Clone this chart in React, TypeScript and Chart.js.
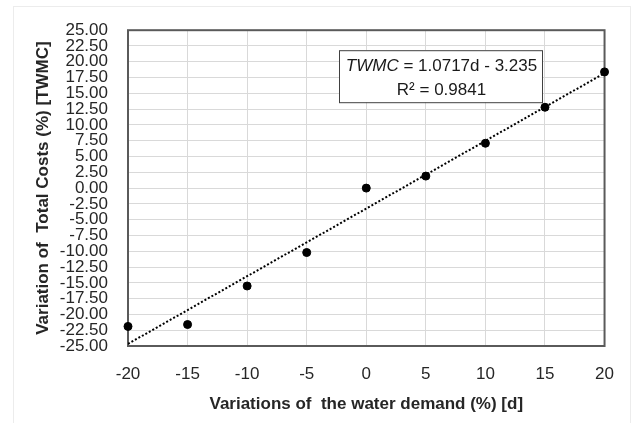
import React, { useEffect, useRef } from "react";
import { Chart, registerables } from "chart.js";

Chart.register(...registerables);

const demandChanges = [-20, -15, -10, -5, 0, 5, 10, 15, 20];
const costChanges = [-21.9, -21.6, -15.5, -10.2, 0.0, 1.9, 7.1, 12.8, 18.4];
const trendSlope = 1.0717;
const trendIntercept = -3.235;
const rSquared = 0.9841;
const xRange = [-20, 20];
const yRange = [-25, 25];
const xStep = 5;
const yStep = 2.5;

const FONT = "'Liberation Sans', Arial, sans-serif";

const boxPlugin = {
  id: "eqBox",
  afterDraw(chart: any) {
    const { ctx, chartArea } = chart;
    const left = chartArea.left + 211;
    const top = chartArea.top + 20;
    const w = 203;
    const h = 52;
    ctx.save();
    ctx.fillStyle = "#ffffff";
    ctx.fillRect(left, top, w, h);
    ctx.strokeStyle = "#404040";
    ctx.lineWidth = 1;
    ctx.strokeRect(left + 0.5, top + 0.5, w, h);
    ctx.fillStyle = "#1a1a1a";
    ctx.textBaseline = "middle";
    const italicPart = "TWMC";
    const rest = ` = ${trendSlope}d - ${Math.abs(trendIntercept)}`;
    ctx.font = `italic 17px ${FONT}`;
    const w1 = ctx.measureText(italicPart).width;
    ctx.font = `17px ${FONT}`;
    const w2 = ctx.measureText(rest).width;
    const cx = left + w / 2 + 1;
    let x = cx - (w1 + w2) / 2;
    ctx.textAlign = "left";
    ctx.font = `italic 17px ${FONT}`;
    ctx.fillText(italicPart, x, top + 16);
    ctx.font = `17px ${FONT}`;
    ctx.fillText(rest, x + w1, top + 16);
    ctx.textAlign = "center";
    ctx.fillText(`R\u00B2 = ${rSquared}`, cx, top + 40);
    ctx.restore();
  },
};

const framePlugin = {
  id: "frame",
  beforeDraw(chart: any) {
    const { ctx, width, height } = chart;
    ctx.save();
    ctx.fillStyle = "#ffffff";
    ctx.fillRect(0, 0, width, height);
    ctx.strokeStyle = "#ececec";
    ctx.lineWidth = 1;
    ctx.strokeRect(13.5, 6.5, width - 15, height + 10);
    ctx.restore();
  },
  beforeDatasetsDraw(chart: any) {
    const { ctx, chartArea } = chart;
    ctx.save();
    ctx.strokeStyle = "#5a5a5a";
    ctx.lineWidth = 2;
    ctx.strokeRect(chartArea.left, chartArea.top, chartArea.right - chartArea.left, chartArea.bottom - chartArea.top);
    ctx.restore();
  },
};

export default function App() {
  const ref = useRef<HTMLCanvasElement | null>(null);
  useEffect(() => {
    document.body.style.margin = "0";
    const canvas = ref.current!;
    const points = demandChanges.map((d, i) => ({ x: d, y: costChanges[i] }));
    const trend = xRange.map((d) => ({ x: d, y: trendSlope * d + trendIntercept }));
    const chart = new Chart(canvas, {
      type: "scatter",
      data: {
        datasets: [
          {
            type: "line",
            data: trend,
            borderColor: "#000000",
            borderWidth: 2,
            borderDash: [2, 2],
            pointRadius: 0,
            fill: false,
            order: 2,
          } as any,
          {
            data: points,
            backgroundColor: "#000000",
            borderColor: "#000000",
            pointRadius: 4,
            clip: false,
            order: 1,
          } as any,
        ],
      },
      plugins: [framePlugin, boxPlugin],
      options: {
        animation: false,
        responsive: false,
        devicePixelRatio: 1,
        layout: { padding: { left: 0, top: 26, right: 24, bottom: 0 } },
        plugins: { legend: { display: false }, tooltip: { enabled: false } },
        scales: {
          x: {
            type: "linear",
            min: xRange[0],
            max: xRange[1],
            afterFit(scale: any) {
              scale.height = 77;
            },
            ticks: {
              stepSize: xStep,
              autoSkip: false,
              maxRotation: 0,
              padding: 18,
              color: "#262626",
              font: { family: FONT, size: 17 },
            },
            grid: { color: "#d9d9d9", lineWidth: 1, drawTicks: false },
            border: { display: false },
            title: {
              display: true,
              text: "Variations of  the water demand (%) [d]",
              color: "#262626",
              font: { family: FONT, size: 17, weight: "bold" },
              padding: { top: 0, bottom: 8 },
            },
          },
          y: {
            type: "linear",
            min: yRange[0],
            max: yRange[1],
            afterFit(scale: any) {
              scale.width = 128;
            },
            ticks: {
              stepSize: yStep,
              autoSkip: false,
              padding: 20,
              color: "#262626",
              font: { family: FONT, size: 17 },
              callback: (v: any) => Number(v).toFixed(2),
            },
            grid: { color: "#d9d9d9", lineWidth: 1, drawTicks: false },
            border: { display: false },
            title: {
              display: true,
              text: "Variation of  Total Costs (%) [TWMC]",
              color: "#262626",
              font: { family: FONT, size: 17, weight: "bold" },
              padding: { top: 33, bottom: 0 },
            },
          },
        },
      },
    });
    return () => chart.destroy();
  }, []);
  return <canvas ref={ref} width={632} height={423} style={{ display: "block" }} />;
}
